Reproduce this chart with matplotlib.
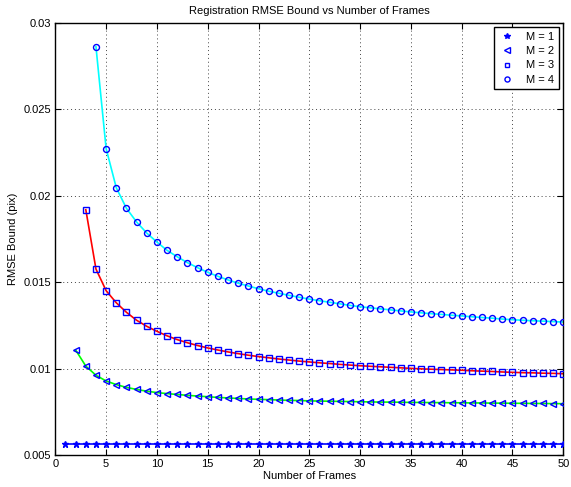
import matplotlib
matplotlib.use("Agg")
import matplotlib.pyplot as plt
import numpy as np
from matplotlib.ticker import FuncFormatter

plt.rcParams['font.family'] = ['Liberation Sans', 'DejaVu Sans']
plt.rcParams['font.size'] = 8

# RMSE bound, one list per M
frames_m1 = list(range(1, 51))
rmse_m1 = [0.00563] * 50

frames_m2 = list(range(2, 51))
rmse_m2 = [0.01108, 0.01015, 0.00962, 0.00929, 0.00908, 0.00892, 0.00880, 0.00870,
           0.00862, 0.00856, 0.00851, 0.00846, 0.00842, 0.00838, 0.00834, 0.00831,
           0.00828, 0.00825, 0.00823, 0.00821, 0.00819, 0.00817, 0.00816, 0.00814,
           0.00813, 0.00812, 0.00811, 0.00810, 0.00809, 0.00808, 0.00807, 0.00807,
           0.00806, 0.00805, 0.00805, 0.00804, 0.00804, 0.00803, 0.00803, 0.00802,
           0.00802, 0.00801, 0.00801, 0.00800, 0.00800, 0.00799, 0.00799, 0.00798,
           0.00798]

frames_m3 = list(range(3, 51))
rmse_m3 = [0.01919, 0.01576, 0.01451, 0.01381, 0.01326, 0.01280, 0.01245, 0.01216,
           0.01190, 0.01168, 0.01150, 0.01134, 0.01120, 0.01108, 0.01097, 0.01087,
           0.01078, 0.01070, 0.01063, 0.01056, 0.01050, 0.01044, 0.01039, 0.01034,
           0.01030, 0.01025, 0.01021, 0.01017, 0.01014, 0.01011, 0.01008, 0.01005,
           0.01002, 0.00999, 0.00997, 0.00995, 0.00993, 0.00991, 0.00988, 0.00986,
           0.00984, 0.00981, 0.00979, 0.00977, 0.00976, 0.00974, 0.00973, 0.00971]

frames_m4 = list(range(4, 51))
rmse_m4 = [0.02861, 0.02272, 0.02046, 0.01927, 0.01848, 0.01784, 0.01732, 0.01684,
           0.01647, 0.01613, 0.01584, 0.01557, 0.01534, 0.01513, 0.01494, 0.01478,
           0.01462, 0.01448, 0.01436, 0.01424, 0.01413, 0.01402, 0.01393, 0.01384,
           0.01375, 0.01366, 0.01358, 0.01352, 0.01346, 0.01340, 0.01334, 0.01328,
           0.01323, 0.01318, 0.01314, 0.01309, 0.01305, 0.01300, 0.01296, 0.01292,
           0.01287, 0.01283, 0.01280, 0.01277, 0.01275, 0.01272, 0.01270]

labels = ["M = 1", "M = 2", "M = 3", "M = 4"]

fig = plt.figure(figsize=(5.71, 4.87), dpi=100)
ax = fig.add_axes([0.0969, 0.0653, 0.8896, 0.8881])

series = [
    (frames_m1, rmse_m1, 'blue', '*', 4.5),
    (frames_m2, rmse_m2, 'lime', '<', 4.3),
    (frames_m3, rmse_m3, 'red', 's', 3.8),
    (frames_m4, rmse_m4, 'cyan', 'o', 4.3),
]

handles = []
for (x, y, lc, mk, ms), lab in zip(series, labels):
    ax.plot(x, y, color=lc, lw=1.2, zorder=2)
    h, = ax.plot(x, y, linestyle='none', marker=mk, ms=ms, mfc='none' if mk != '*' else 'blue',
                 mec='blue', mew=1.0, zorder=3, label=lab)
    handles.append(h)

ax.set_xlim(0, 50)
ax.set_ylim(0.005, 0.03)
ax.set_xticks(np.arange(0, 51, 5))
ax.set_yticks([0.005, 0.01, 0.015, 0.02, 0.025, 0.03])
ax.yaxis.set_major_formatter(FuncFormatter(lambda v, p: f"{v:g}"))
ax.tick_params(direction='in', top=True, right=True, length=4, width=0.8, pad=3)
ax.grid(True, linestyle=(0, (1, 3)), color='#444444', lw=0.7)
for s in ax.spines.values():
    s.set_linewidth(1.0)

ax.set_title("Registration RMSE Bound vs Number of Frames", fontsize=8, pad=6)
ax.set_xlabel("Number of Frames", labelpad=1)
ax.set_ylabel("RMSE Bound (pix)", labelpad=4)

leg = ax.legend(handles=handles, loc='upper right', fancybox=False, framealpha=1,
                edgecolor='black', markerscale=0.85, handlelength=1.5,
                borderaxespad=0.4, labelspacing=0.4, handletextpad=1.0,
                borderpad=0.4)
leg.get_frame().set_linewidth(1.0)

fig.savefig("out.png", dpi=100)
